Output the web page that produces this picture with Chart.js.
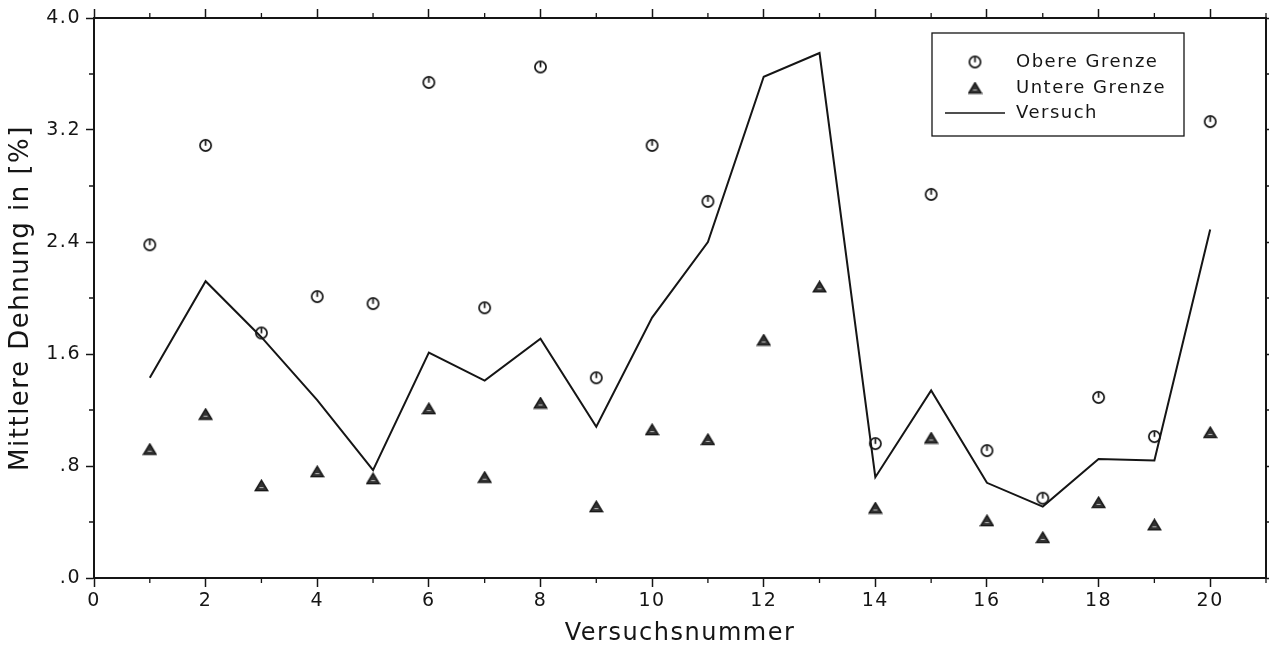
<!DOCTYPE html>
<html><head><meta charset="utf-8">
<script src="https://cdn.jsdelivr.net/npm/chart.js@4.4.1/dist/chart.umd.min.js"></script>
<style>html,body{margin:0;padding:0;background:#fff;} canvas{display:block;}</style>
</head><body>
<canvas id="c" width="1269" height="652"></canvas>
<script>
const versuchsnummer = [1,2,3,4,5,6,7,8,9,10,11,12,13,14,15,16,17,18,19,20];
const obereGrenze  = [2.38,3.09,1.75,2.01,1.96,3.54,1.93,3.65,1.43,3.09,2.69,null,null,0.96,2.74,0.91,0.57,1.29,1.01,3.26];
const untereGrenze = [0.92,1.17,0.66,0.76,0.71,1.21,0.72,1.25,0.51,1.06,0.99,1.70,2.08,0.50,1.00,0.41,0.29,0.54,0.38,1.04];
const versuch      = [1.43,2.12,1.72,1.27,0.77,1.61,1.41,1.71,1.08,1.86,2.40,3.58,3.75,0.72,1.34,0.68,0.51,0.85,0.84,2.49];

const xTickValues = [0,2,4,6,8,10,12,14,16,18,20];
const xTickLabels = ['0','2','4','6','8','10','12','14','16','18','20'];
const xMinorTicks = [1,3,5,7,9,11,13,15,17,19,21];
const yTickValues = [0,0.8,1.6,2.4,3.2,4.0];
const yTickLabels = ['.0','.8','1.6','2.4','3.2','4.0'];
const yMinorTicks = [0.4,1.2,2.0,2.8,3.6];

const seriesLabels = ['Obere Grenze','Untere Grenze','Versuch'];
const xTitle = 'Versuchsnummer';
const yTitle = 'Mittlere Dehnung in [%]';

const INK = '#151515';
const FONT = "'DejaVu Sans', 'Liberation Sans', sans-serif";

function circleMarker() {
  const c = document.createElement('canvas'); c.width = 15; c.height = 15;
  const g = c.getContext('2d');
  g.strokeStyle = INK; g.lineWidth = 1.7;
  g.beginPath(); g.arc(7.5, 7.5, 5.6, 0, Math.PI * 2); g.stroke();
  g.beginPath(); g.moveTo(7.5, 2.5); g.lineTo(7.5, 7.8); g.stroke();
  return c;
}
function triangleMarker() {
  const c = document.createElement('canvas'); c.width = 15; c.height = 13;
  const g = c.getContext('2d');
  g.fillStyle = '#333'; g.strokeStyle = INK; g.lineWidth = 1.4;
  g.beginPath(); g.moveTo(7.5, 1.2); g.lineTo(13.8, 11.6); g.lineTo(1.2, 11.6); g.closePath();
  g.fill(); g.stroke();
  g.strokeStyle = '#bbb'; g.lineWidth = 1;
  g.beginPath(); g.moveTo(5.5, 8.5); g.lineTo(9.5, 8.5); g.stroke();
  return c;
}
const circleImg = circleMarker();
const triImg = triangleMarker();

const toPts = arr => versuchsnummer.map((x, i) => ({x: x, y: arr[i]}));

const minorTicksPlugin = {
  id: 'minorTicks',
  afterDraw(chart) {
    const {ctx, chartArea: ca, scales} = chart;
    ctx.save();
    ctx.strokeStyle = INK; ctx.lineWidth = 1.3;
    xMinorTicks.forEach(v => {
      const px = scales.x.getPixelForValue(v);
      ctx.beginPath();
      ctx.moveTo(px, ca.bottom); ctx.lineTo(px, ca.bottom + 5);
      ctx.moveTo(px, ca.top); ctx.lineTo(px, ca.top - 5);
      ctx.stroke();
    });
    yMinorTicks.forEach(v => {
      const py = scales.y.getPixelForValue(v);
      ctx.beginPath();
      ctx.moveTo(ca.left, py); ctx.lineTo(ca.left - 5, py);
      ctx.moveTo(ca.right, py); ctx.lineTo(ca.right + 3, py);
      ctx.stroke();
    });
    ctx.restore();
  }
};

const boxLegendPlugin = {
  id: 'boxLegend',
  afterDraw(chart) {
    const {ctx, chartArea: ca} = chart;
    const left = ca.right - 334, top = ca.top + 15, w = 252, h = 103;
    ctx.save();
    ctx.strokeStyle = INK; ctx.lineWidth = 1.3;
    ctx.strokeRect(left, top, w, h);
    ctx.font = "18px " + FONT;
    ctx.fillStyle = INK;
    ctx.textBaseline = 'middle';
    ctx.textAlign = 'left';
    const rows = [top + 29, top + 55, top + 80];
    chart.data.datasets.forEach((ds, i) => {
      const y = rows[i];
      if (ds.pointStyle instanceof HTMLCanvasElement) {
        ctx.drawImage(ds.pointStyle, left + 43 - ds.pointStyle.width / 2, y - ds.pointStyle.height / 2);
      } else {
        ctx.beginPath(); ctx.lineWidth = 1.6;
        ctx.moveTo(left + 13, y); ctx.lineTo(left + 73, y); ctx.stroke();
      }
      ctx.fillText(ds.label, left + 84, y);
    });
    ctx.restore();
  }
};

const spacingPlugin = {
  id: 'spacing',
  beforeDraw(chart) { chart.ctx.letterSpacing = '1.5px'; }
};

const tickFont = {family: FONT, size: 19};

new Chart(document.getElementById('c'), {
  type: 'scatter',
  data: {
    datasets: [
      {label: seriesLabels[0], data: toPts(obereGrenze), pointStyle: circleImg, pointRadius: 7, showLine: false},
      {label: seriesLabels[1], data: toPts(untereGrenze), pointStyle: triImg, pointRadius: 7, showLine: false},
      {label: seriesLabels[2], data: toPts(versuch), showLine: true, pointRadius: 0, borderColor: INK, borderWidth: 2, fill: false, tension: 0}
    ]
  },
  options: {
    responsive: false,
    animation: false,
    events: [],
    layout: {padding: 0, autoPadding: false},
    plugins: {legend: {display: false}, tooltip: {enabled: false}},
    scales: {
      x: {
        type: 'linear', position: 'bottom', min: 0, max: 21,
        afterBuildTicks: s => { s.ticks = xTickValues.map(v => ({value: v})); },
        afterFit: s => { s.height = 74; },
        ticks: {callback: (v, i) => xTickLabels[i], font: tickFont, color: INK, padding: 3, maxRotation: 0, autoSkip: false},
        grid: {drawOnChartArea: false, tickLength: 9, tickColor: INK, tickWidth: 1.5},
        border: {color: INK, width: 2},
        title: {display: true, text: xTitle, font: {family: FONT, size: 24}, color: INK, padding: {top: 0, bottom: 4}}
      },
      x2: {
        type: 'linear', position: 'top', min: 0, max: 21,
        afterBuildTicks: s => { s.ticks = xTickValues.map(v => ({value: v})); },
        afterFit: s => { s.height = 18; },
        ticks: {display: false},
        grid: {drawOnChartArea: false, tickLength: 9, tickColor: INK, tickWidth: 1.5},
        border: {color: INK, width: 2}
      },
      y: {
        type: 'linear', position: 'left', min: 0, max: 4,
        afterBuildTicks: s => { s.ticks = yTickValues.map(v => ({value: v})); },
        afterFit: s => { s.width = 94; },
        ticks: {callback: (v, i) => yTickLabels[i], font: tickFont, color: INK, padding: 5},
        grid: {drawOnChartArea: false, tickLength: 8, tickColor: INK, tickWidth: 1.5},
        border: {color: INK, width: 2},
        title: {display: true, text: yTitle, font: {family: FONT, size: 26}, color: INK, padding: {top: 6, bottom: 0}}
      },
      y2: {
        type: 'linear', position: 'right', min: 0, max: 4,
        afterBuildTicks: s => { s.ticks = yTickValues.map(v => ({value: v})); },
        afterFit: s => { s.width = 3; },
        ticks: {display: false},
        grid: {drawOnChartArea: false, tickLength: 3, tickColor: INK, tickWidth: 1.5},
        border: {color: INK, width: 2}
      }
    }
  },
  plugins: [spacingPlugin, minorTicksPlugin, boxLegendPlugin]
});
</script>
</body></html>
